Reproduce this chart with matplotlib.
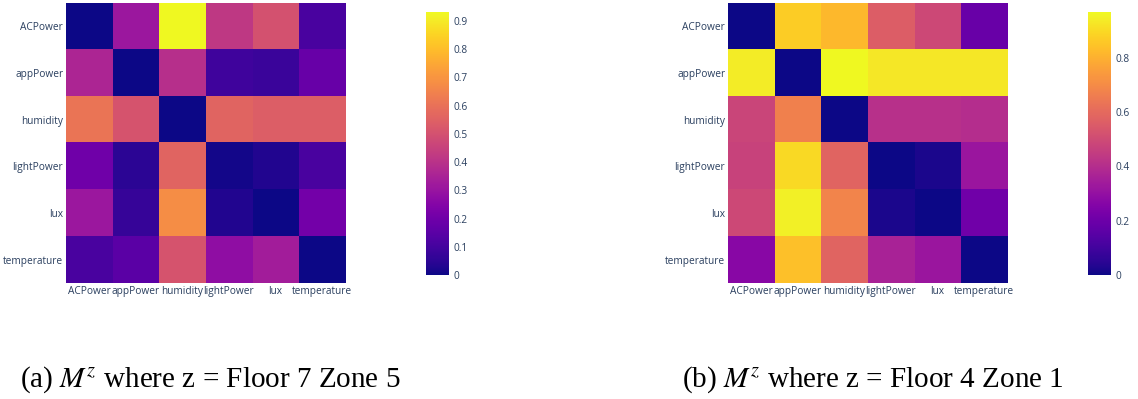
import numpy as np
import matplotlib
matplotlib.use('Agg')
import matplotlib.pyplot as plt
from matplotlib.colors import Normalize

# 特征名称
labels = ['ACPower', 'appPower', 'humidity', 'lightPower', 'lux', 'temperature']

# Floor 7 Zone 5 的矩阵 (行从上到下)
m_f7z5 = [
    [0.00, 0.31, 0.933, 0.42, 0.50, 0.11],
    [0.36, 0.00, 0.39, 0.09, 0.08, 0.18],
    [0.61, 0.51, 0.00, 0.56, 0.54, 0.54],
    [0.20, 0.05, 0.56, 0.01, 0.03, 0.11],
    [0.31, 0.07, 0.68, 0.03, 0.00, 0.21],
    [0.11, 0.15, 0.51, 0.28, 0.33, 0.00],
]

# Floor 4 Zone 1 的矩阵
m_f4z1 = [
    [0.00, 0.87, 0.82, 0.56, 0.49, 0.19],
    [0.94, 0.00, 0.97, 0.93, 0.93, 0.93],
    [0.48, 0.67, 0.00, 0.41, 0.41, 0.40],
    [0.47, 0.90, 0.58, 0.00, 0.02, 0.32],
    [0.49, 0.95, 0.68, 0.02, 0.00, 0.21],
    [0.27, 0.84, 0.58, 0.36, 0.32, 0.00],
]

captions = ['(a) $M^z$ where z = Floor 7 Zone 5', '(b) $M^z$ where z = Floor 4 Zone 1']
cbar_ticks = [np.arange(0, 1.0, 0.1), np.arange(0, 1.0, 0.2)]

plt.rcParams['mathtext.fontset'] = 'stix'
tick_color = '#2a3f5f'

fig = plt.figure(figsize=(11.38, 3.99), dpi=100)

heat_x = [0.058, 0.6397]
bar_x = [0.3743, 0.956]
cap_x = [0.018, 0.599]

for k, mat in enumerate([m_f7z5, m_f4z1]):
    mat = np.array(mat)
    ax = fig.add_axes([heat_x[k], 0.2907, 0.2452, 0.7018])
    norm = Normalize(vmin=mat.min(), vmax=mat.max())
    im = ax.imshow(mat, cmap='plasma', norm=norm, aspect='auto', interpolation='nearest')
    ax.set_xticks(range(len(labels)))
    ax.set_xticklabels(labels)
    ax.set_yticks(range(len(labels)))
    ax.set_yticklabels(labels)
    ax.tick_params(length=0, pad=2, labelsize=7.3, colors=tick_color)
    for lab in ax.get_xticklabels() + ax.get_yticklabels():
        lab.set_fontfamily('Open Sans')
    for s in ax.spines.values():
        s.set_visible(False)

    cax = fig.add_axes([bar_x[k], 0.3108, 0.0202, 0.660])
    cb = fig.colorbar(im, cax=cax)
    cb.outline.set_visible(False)
    ticks = [t for t in cbar_ticks[k] if t <= mat.max() + 1e-9]
    cb.set_ticks(ticks)
    cb.set_ticklabels(['0' if t == 0 else '%.1f' % t for t in ticks])
    cax.tick_params(length=0, pad=3, labelsize=7.3, colors=tick_color)
    for lab in cax.get_yticklabels():
        lab.set_fontfamily('Open Sans')

    fig.text(cap_x[k], 0.030, captions[k], fontsize=21, family='Liberation Serif',
             ha='left', va='baseline')

fig.savefig('out.png', dpi=100)
